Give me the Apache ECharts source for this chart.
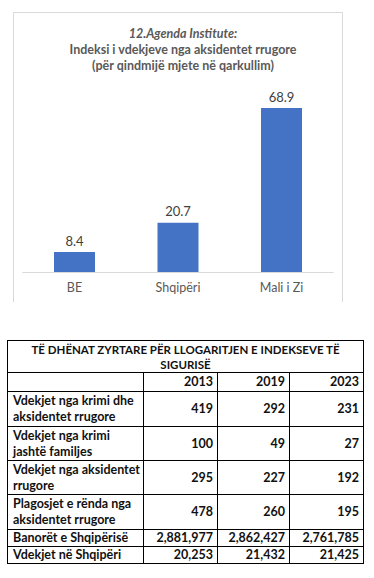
<!DOCTYPE html>
<html>
<head>
<meta charset="utf-8">
<script src="https://cdn.jsdelivr.net/npm/echarts@6/dist/echarts.min.js"></script>
<style>
  html, body { margin: 0; padding: 0; background: #fff; }
  #wrap { position: relative; width: 374px; height: 578px; overflow: hidden; }
  #chart { position: absolute; left: 0; top: 0; width: 374px; height: 310px; }
  #tbl { position: absolute; left: 7px; top: 340px; border-collapse: collapse;
         font-family: Lato, "Liberation Sans", sans-serif; font-weight: bold; font-size: 12.5px; color: #111; }
  #tbl td { border: 1px solid #000; padding: 0 4px 0 4px; line-height: 16px; white-space: nowrap; overflow: hidden; }
  #tbl td.lbl { font-size: 12.5px; padding-left: 5px; padding-right: 1px; }
  #tbl td.num { text-align: right; }
  #tbl td.head { text-align: center; font-size: 11.5px; line-height: 15px; }
</style>
</head>
<body>
<div id="wrap">
  <div id="chart"></div>
  <table id="tbl"></table>
</div>
<script>
// ---- Chart data ----
const categories = ['BE', 'Shqipëri', 'Mali i Zi'];
const indexValues = [8.4, 20.7, 68.9];
const titleLines = ['12.Agenda Institute:', 'Indeksi i vdekjeve nga aksidentet rrugore', '(për qindmijë mjete në qarkullim)'];

// ---- Table data ----
const tableTitle = ['TË DHËNAT ZYRTARE PËR LLOGARITJEN E INDEKSEVE TË', 'SIGURISË'];
const years = ['2013', '2019', '2023'];
const rowLabels = [
  ['Vdekjet nga krimi dhe', 'aksidentet rrugore'],
  ['Vdekjet nga krimi', 'jashtë familjes'],
  ['Vdekjet nga aksidentet', 'rrugore'],
  ['Plagosjet e rënda nga', 'aksidentet rrugore'],
  ['Banorët e Shqipërisë'],
  ['Vdekjet në Shqipëri']
];
const row1 = ['419', '292', '231'];
const row2 = ['100', '49', '27'];
const row3 = ['295', '227', '192'];
const row4 = ['478', '260', '195'];
const row5 = ['2,881,977', '2,862,427', '2,761,785'];
const row6 = ['20,253', '21,432', '21,425'];
const tableRows = [row1, row2, row3, row4, row5, row6];

// ---- Build table ----
const colWidths = [136, 74, 72, 74];
const rowHeights = [32, 19, 35, 34, 34, 35, 16, 17];
const tbl = document.getElementById('tbl');
let html = '<colgroup>' + colWidths.map(w => '<col style="width:' + w + 'px">').join('') + '</colgroup>';
html += '<tr style="height:' + rowHeights[0] + 'px"><td class="head" colspan="4">' + tableTitle.join('<br>') + '</td></tr>';
html += '<tr style="height:' + rowHeights[1] + 'px"><td></td>' + years.map(y => '<td class="num">' + y + '</td>').join('') + '</tr>';
tableRows.forEach((r, i) => {
  html += '<tr style="height:' + rowHeights[i + 2] + 'px"><td class="lbl">' + rowLabels[i].join('<br>') + '</td>' +
    r.map(v => '<td class="num">' + v + '</td>').join('') + '</tr>';
});
tbl.innerHTML = html;
tbl.style.width = colWidths.reduce((a, b) => a + b, 0) + 'px';
tbl.style.tableLayout = 'fixed';

// ---- Chart ----
const chart = echarts.init(document.getElementById('chart'), null, { renderer: 'svg' });
const font = 'Lato, "Liberation Sans", sans-serif';
chart.setOption({
  animation: false,
  textStyle: { fontFamily: font },
  title: {
    text: '{a|' + titleLines[0] + '}\n{b|' + titleLines[1] + '}\n{b|' + titleLines[2] + '}',
    left: 178, top: 20, textAlign: 'center',
    textStyle: {
      rich: {
        a: { fontStyle: 'italic', fontSize: 12.5, color: '#595959', lineHeight: 16, fontFamily: font },
        b: { fontSize: 12.5, color: '#595959', lineHeight: 16, fontFamily: font }
      }
    }
  },
  graphic: [{
    type: 'polyline',
    shape: { points: [[13.5, 302], [13.5, 12.5], [342.5, 12.5], [342.5, 302]] },
    style: { stroke: '#d9d9d9', fill: null, lineWidth: 1 }
  }],
  grid: { left: 22.75, right: 40.75, top: 81.6, bottom: 38 },
  xAxis: {
    type: 'category', data: categories,
    axisTick: { show: false },
    axisLine: { lineStyle: { color: '#d9d9d9' } },
    axisLabel: { color: '#595959', fontSize: 12.5, margin: 9, fontFamily: font }
  },
  yAxis: { type: 'value', min: 0, max: 80, show: false, splitLine: { show: false } },
  series: [{
    type: 'bar', data: indexValues, barWidth: 41,
    itemStyle: { color: '#4472c4' },
    label: { show: true, position: 'top', distance: 5, color: '#404040', fontSize: 13, fontFamily: font }
  }]
});
</script>
</body>
</html>
